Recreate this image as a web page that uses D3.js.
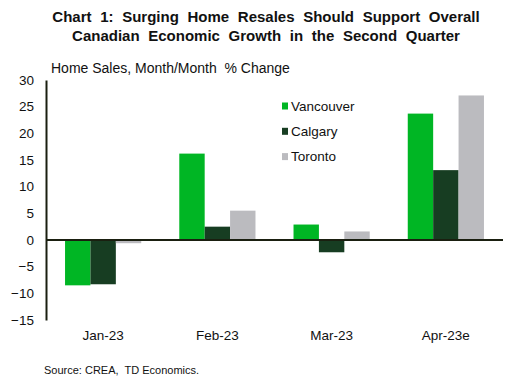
<!DOCTYPE html>
<html>
<head>
<meta charset="utf-8">
<script src="https://cdn.jsdelivr.net/npm/d3@7"></script>
<style>
  body { margin: 0; background: #fff; }
  svg { font-family: "Liberation Sans", Arial, sans-serif; }
  text { white-space: pre; }
</style>
</head>
<body>
<svg id="chart" width="517" height="386"></svg>
<script>
// data
const categories = ["Jan-23", "Feb-23", "Mar-23", "Apr-23e"];
const seriesNames = ["Vancouver", "Calgary", "Toronto"];
const vancouver = [-8.5, 16.2, 2.9, 23.7];
const calgary = [-8.3, 2.5, -2.3, 13.1];
const toronto = [-0.6, 5.5, 1.6, 27.1];
const yTicks = [30, 25, 20, 15, 10, 5, 0, -5, -10, -15];
const colors = ["#00b624", "#173d22", "#bbbbbf"];

const svg = d3.select("#chart");
const margin = { top: 80, right: 14, bottom: 66, left: 46 };
const width = 517 - margin.left - margin.right;
const height = 386 - margin.top - margin.bottom;

const values = [vancouver, calgary, toronto];
const rows = categories.map((c, i) => ({
    cat: c,
    vals: seriesNames.map((s, j) => ({ name: s, value: values[j][i], color: colors[j] }))
}));

const x0 = d3.scaleBand().domain(categories).range([0, width])
    .paddingInner(0.333).paddingOuter(0.1667);
const x1 = d3.scaleBand().domain(seriesNames).range([0, x0.bandwidth()]);
const y = d3.scaleLinear().domain([-15, 30]).range([height, 0]);

const g = svg.append("g").attr("transform", `translate(${margin.left},${margin.top})`);

// title
const titleLines = ["Chart 1: Surging Home Resales Should Support Overall",
    "Canadian Economic Growth in the Second Quarter"];
titleLines.forEach((t, i) => {
    svg.append("text")
        .attr("x", 266).attr("y", 22 + i * 19)
        .attr("text-anchor", "middle")
        .attr("font-weight", "bold").attr("font-size", 15)
        .attr("word-spacing", 4.5)
        .attr("fill", "#111")
        .text(t);
});

// axis label
svg.append("text")
    .attr("x", 51).attr("y", 73)
    .attr("font-size", 14).attr("fill", "#111")
    .text("Home Sales, Month/Month  % Change");

// bars
g.selectAll("g.cat")
    .data(rows)
    .join("g")
    .attr("class", "cat")
    .attr("transform", d => `translate(${x0(d.cat)},0)`)
    .selectAll("rect")
    .data(d => d.vals)
    .join("rect")
    .attr("x", d => x1(d.name))
    .attr("width", x1.bandwidth())
    .attr("y", d => y(Math.max(0, d.value)))
    .attr("height", d => Math.abs(y(d.value) - y(0)))
    .attr("fill", d => d.color);

// y axis
const yAxis = g.append("g")
    .call(d3.axisLeft(y).tickValues(yTicks).tickSize(0).tickPadding(12).tickFormat(d3.format("d")));
yAxis.select(".domain").attr("stroke", "#1a1f10").attr("stroke-width", 2);
yAxis.selectAll("text").attr("font-size", 13.5).attr("fill", "#111")
    .attr("font-family", "Liberation Sans, Arial, sans-serif");

// zero line
g.append("line")
    .attr("x1", 0).attr("x2", width)
    .attr("y1", y(0)).attr("y2", y(0))
    .attr("stroke", "#1a1f10").attr("stroke-width", 2);

// x category labels
g.selectAll("text.xlab")
    .data(categories)
    .join("text")
    .attr("class", "xlab")
    .attr("x", d => x0(d) + x0.bandwidth() / 2)
    .attr("y", height + 20)
    .attr("text-anchor", "middle")
    .attr("font-size", 13.5).attr("fill", "#111")
    .text(d => d);

// legend
const legend = svg.append("g").attr("transform", "translate(282,0)");
seriesNames.forEach((s, i) => {
    const cy = 106 + i * 25.3;
    legend.append("rect")
        .attr("x", 0).attr("y", cy - 3.5)
        .attr("width", 6).attr("height", 7)
        .attr("fill", colors[i]);
    legend.append("text")
        .attr("x", 9).attr("y", cy + 4.7)
        .attr("font-size", 13.5).attr("fill", "#111")
        .text(s);
});

// source
svg.append("text")
    .attr("x", 44).attr("y", 374)
    .attr("font-size", 11).attr("fill", "#111")
    .text("Source: CREA,  TD Economics.");
</script>
</body>
</html>
